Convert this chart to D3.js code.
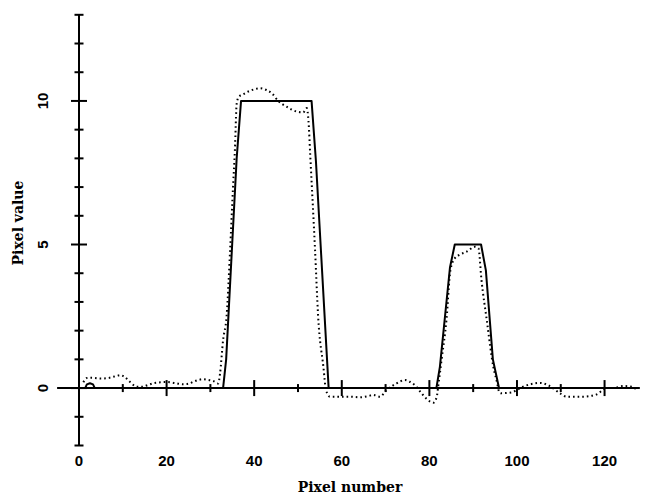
<!DOCTYPE html>
<html>
<head>
<meta charset="utf-8">
<script src="https://cdn.jsdelivr.net/npm/d3@7"></script>
<style>
  body { margin: 0; background: #fff; }
  svg { display: block; }
</style>
</head>
<body>
<svg width="646" height="500"></svg>
<script>
// original pixel profile (solid) and reconstruction (dotted)
var solidX = [0, 1.4, 1.8, 2.5, 3.2, 3.6, 32.9, 33.6, 36, 37, 53.1, 54.1, 57, 81.6, 82.4, 84.7, 85.8, 91.8, 92.9, 94.5, 95.9, 128];
var solidY = [0, 0, 0.13, 0.17, 0.13, 0, 0, 1.0, 8.0, 10, 10, 7.9, 0, 0, 0.74, 4.2, 5, 5, 4.1, 1.0, 0, 0];

var dotX = [1.0, 1.8, 3, 5, 7, 8.5, 9.4, 10.5, 11.6, 13.2, 14.5, 15.4, 17, 18.5, 20, 22, 23.8, 25, 26.1, 27.2, 28.4, 29.6, 30.7, 31.8,
  32.2, 32.9, 33.7, 34.5, 35.2, 35.6, 36.0, 36.5, 37.1, 39, 41.3, 42.8, 44, 45.5, 47.4, 49.7, 51.2, 52, 52.4, 52.8,
  53.9, 54.6, 55.8, 56.4, 57.3, 60.3, 62, 64.2, 66, 67.2, 68.7, 70.2, 72.5, 74.4, 75.5, 76.7, 78.2, 79.7, 80.9, 81.7,
  82, 82.4, 82.8, 83.9, 84.8, 85.8, 87, 88.5, 90.4, 91.2, 91.9, 93.1, 94.6, 95.5, 95.8, 96.3, 98.8, 99.8, 101.4,
  103.3, 105.3, 107.5, 109.8, 111.3, 115.1, 118.2, 119.3, 120.1, 122, 124.3, 126.2, 127.3];
var dotY = [0.2, 0.35, 0.36, 0.33, 0.36, 0.42, 0.45, 0.38, 0.22, 0.05, 0.05, 0.09, 0.17, 0.2, 0.21, 0.17, 0.13, 0.15, 0.22, 0.28, 0.31, 0.28, 0.24, 0.16,
  0.5, 1.67, 2.5, 4.8, 7.1, 8.3, 9.9, 10.15, 10.2, 10.35, 10.44, 10.38, 10.27, 10.0, 9.8, 9.63, 9.6, 9.75, 9.3, 8.1,
  4.8, 2.5, 0.74, -0.07, -0.3, -0.3, -0.3, -0.32, -0.28, -0.24, -0.3, -0.07, 0.16, 0.28, 0.22, 0.1, -0.18, -0.42, -0.51, -0.3,
  0.05, 0.51, 1.0, 2.37, 4.1, 4.52, 4.65, 4.75, 4.92, 4.87, 3.76, 2.37, 0.74, 0.16, -0.07, -0.18, -0.15, -0.08, 0.05,
  0.14, 0.18, 0.07, -0.18, -0.3, -0.3, -0.22, -0.1, 0, 0, 0.07, 0.05, -0.05];

var xTicksMajor = [20, 40, 60, 80, 100, 120];
var xTicksMinor = [10, 30, 50, 70, 90, 110];
var xLabels = [0, 20, 40, 60, 80, 100, 120];
var yTicksMajor = [0, 5, 10];
var yTicksMinor = [-2, -1, 1, 2, 3, 4, 6, 7, 8, 9, 11, 12, 13];

var svg = d3.select('svg');

var x = d3.scaleLinear().domain([0, 128]).range([79, 639.6]);
var y = d3.scaleLinear().domain([-2, 13]).range([445.5, 14.8]);

var ax = svg.append('g').attr('stroke', '#000').attr('stroke-width', 2).attr('fill', 'none');

// y axis
ax.append('line').attr('x1', x(0)).attr('x2', x(0)).attr('y1', y(-2)).attr('y2', y(13));
ax.selectAll('.ymin').data(yTicksMinor).enter().append('line')
  .attr('x1', x(0) - 4.5).attr('x2', x(0) + 4.5)
  .attr('y1', function (d) { return y(d); }).attr('y2', function (d) { return y(d); });
ax.selectAll('.ymaj').data(yTicksMajor).enter().append('line')
  .attr('x1', x(0) - 8).attr('x2', x(0) + 8)
  .attr('y1', function (d) { return y(d); }).attr('y2', function (d) { return y(d); });

// x axis
ax.append('line').attr('x1', x(-5)).attr('x2', x(128)).attr('y1', y(0)).attr('y2', y(0));
ax.selectAll('.xmin').data(xTicksMinor).enter().append('line')
  .attr('x1', function (d) { return x(d); }).attr('x2', function (d) { return x(d); })
  .attr('y1', y(0) - 4).attr('y2', y(0) + 4);
ax.selectAll('.xmaj').data(xTicksMajor).enter().append('line')
  .attr('x1', function (d) { return x(d); }).attr('x2', function (d) { return x(d); })
  .attr('y1', y(0) - 8).attr('y2', y(0) + 8);

// curves
var solidLine = d3.line()
  .x(function (d, i) { return x(solidX[i]); })
  .y(function (d) { return y(d); });
svg.append('path').attr('d', solidLine(solidY))
  .attr('fill', 'none').attr('stroke', '#000').attr('stroke-width', 2).attr('stroke-linejoin', 'round');

var dotLine = d3.line()
  .x(function (d, i) { return x(dotX[i]); })
  .y(function (d) { return y(d); })
  .curve(d3.curveMonotoneX);
svg.append('path').attr('d', dotLine(dotY))
  .attr('fill', 'none').attr('stroke', '#000').attr('stroke-width', 2).attr('stroke-dasharray', '1.6,3');

// labels
svg.selectAll('.xl').data(xLabels).enter().append('text')
  .attr('x', function (d) { return x(d); }).attr('y', 466)
  .attr('text-anchor', 'middle')
  .style('font-family', 'Liberation Sans, Arial, sans-serif').style('font-weight', 'bold').style('font-size', '15px')
  .text(function (d) { return d; });

svg.selectAll('.yl').data(yTicksMajor).enter().append('text')
  .attr('transform', function (d) { return 'translate(48,' + y(d) + ') rotate(-90)'; })
  .attr('text-anchor', 'middle')
  .style('font-family', 'Liberation Sans, Arial, sans-serif').style('font-weight', 'bold').style('font-size', '15px')
  .text(function (d) { return d; });

svg.append('text').attr('x', 350).attr('y', 492).attr('text-anchor', 'middle')
  .style('font-family', 'DejaVu Serif, serif').style('font-weight', 'bold').style('font-size', '14px')
  .text('Pixel number');

svg.append('text').attr('transform', 'translate(23,223) rotate(-90)').attr('text-anchor', 'middle')
  .style('font-family', 'DejaVu Serif, serif').style('font-weight', 'bold').style('font-size', '14px')
  .text('Pixel value');
</script>
</body>
</html>
